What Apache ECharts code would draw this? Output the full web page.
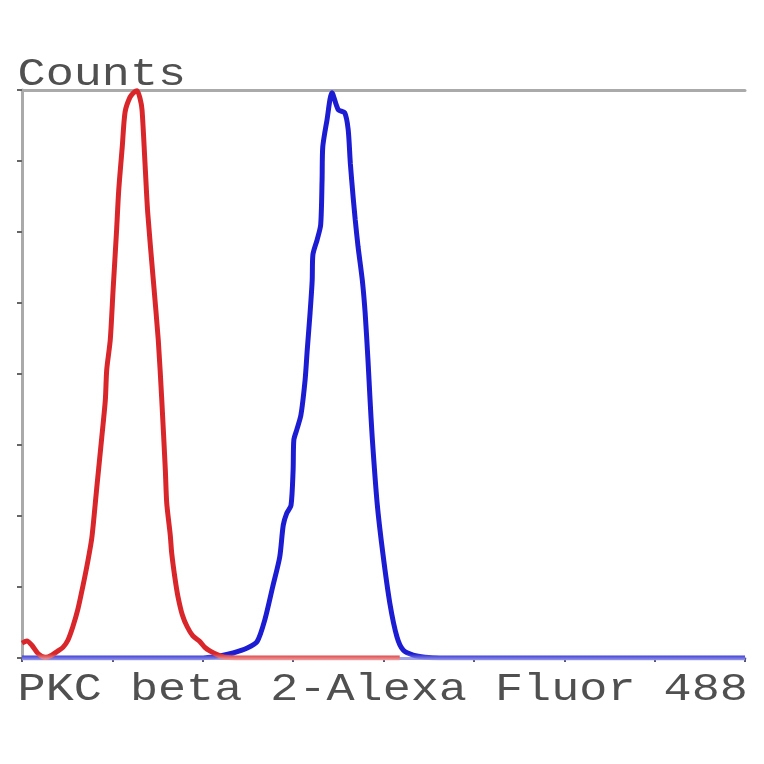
<!DOCTYPE html>
<html>
<head>
<meta charset="utf-8">
<script src="https://cdn.jsdelivr.net/npm/echarts@6/dist/echarts.min.js"></script>
<style>html,body{margin:0;padding:0;background:#fff}#c{width:764px;height:764px}</style>
</head>
<body>
<div id="c"></div>
<script>
// Channel (x) vs counts (y)
var xTitle = 'PKC beta 2-Alexa Fluor 488';
var yTitle = 'Counts';
var xMax = 1024, xInterval = 128;
var yMax = 800, yInterval = 100;

var controlX = [0,7,14,23,33,42,51,58,65,72,79,86,93,99,106,113,118,120,125,129,134,137,142,146,153,159,163,167,170,174,178,186,193,198,203,205,210,212,217,221,227,234,242,252,259,266,278,287,309,535];
var controlY = [21,24,18,6,1,4,10,15,25,44,68,100,135,170,241,311,363,406,448,518,603,659,720,769,790,797,799,789,772,701,628,532,448,363,265,218,173,148,110,86,61,44,31,23,15,10,4,1,0,0];

var sampleX = [0,252,280,299,319,333,344,355,365,370,375,381,384,385,389,395,401,404,408,411,412,418,423,425,426,432,439,448,457,462,465,469,472,476,482,486,490,493,496,503,511,521,531,540,554,571,592,1024];
var sampleY = [0,0,3,7,14,23,54,100,142,187,204,215,265,307,321,342,392,434,486,532,568,589,610,673,720,758,796,772,768,744,697,649,617,579,532,486,420,363,311,218,148,77,30,11,4,1,0,0];

function pairs(xs, ys){ return xs.map(function(x,i){ return [x, ys[i]]; }); }
function fade(dark, light){
  return {type: 'linear', x: 0, y: 0, x2: 0, y2: 1, colorStops: [
    {offset: 0, color: dark}, {offset: 0.988, color: dark}, {offset: 1, color: light}
  ]};
}

var chart = echarts.init(document.getElementById('c'), null, {renderer:'canvas'});
chart.setOption({
  animation: false,
  backgroundColor: '#fff',
  grid: {left: 22, right: 19, top: 90, bottom: 106},
  xAxis: [{
    type: 'value', min: 0, max: xMax, interval: xInterval, position: 'bottom',
    axisLine: {show: true, lineStyle: {color: '#a3a3e8', width: 3}},
    axisTick: {show: true, length: 4, lineStyle: {color: '#555577', width: 2}},
    axisLabel: {show: false}, splitLine: {show: false}
  },{
    type: 'value', min: 0, max: xMax, position: 'top',
    axisLine: {show: true, onZero: false, lineStyle: {color: '#aaaaaa', width: 3}},
    axisTick: {show: false}, axisLabel: {show: false}, splitLine: {show: false}
  }],
  yAxis: [{
    type: 'value', min: 0, max: yMax, interval: yInterval,
    axisLine: {show: true, lineStyle: {color: '#aaaaaa', width: 3}},
    axisTick: {show: true, length: 5, lineStyle: {color: '#666', width: 2}},
    axisLabel: {show: false}, splitLine: {show: false}
  }],
  series: [{
    type: 'line', data: pairs(sampleX, sampleY), showSymbol: false, symbol: 'none', smooth: 0.25,
    lineStyle: {color: fade('#1c1cd2', '#a0a0ea'), width: 5}, z: 2
  },{
    type: 'line', data: pairs(controlX, controlY), showSymbol: false, symbol: 'none', smooth: 0.25,
    lineStyle: {color: fade('#d8262a', '#f0a8a8'), width: 5}, z: 3
  }],
  graphic: [{
    type: 'text', x: 22, y: 75, scaleX: 1.2, originX: 22,
    style: {text: yTitle, font: '39px "Liberation Mono"', fill: '#505050', textAlign: 'left', textVerticalAlign: 'middle'}
  },{
    type: 'text', x: 22, y: 690, scaleX: 1.2, originX: 22,
    style: {text: xTitle, font: '39px "Liberation Mono"', fill: '#505050', textAlign: 'left', textVerticalAlign: 'middle'}
  }]
});
</script>
</body>
</html>
